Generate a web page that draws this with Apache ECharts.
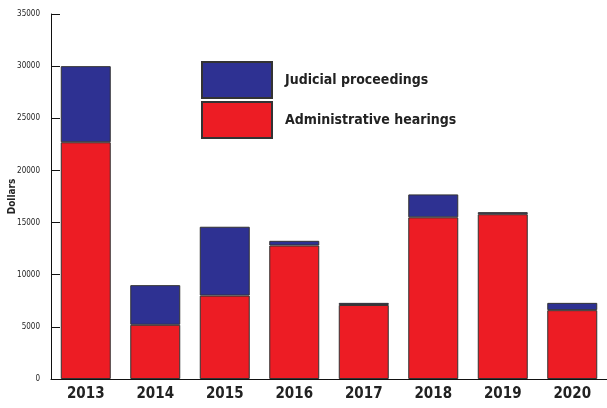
<!DOCTYPE html>
<html><head><meta charset="utf-8">
<script src="https://cdn.jsdelivr.net/npm/echarts@6/dist/echarts.min.js"></script>
<style>html,body{margin:0;padding:0;background:#fff}#c{width:607px;height:408px}</style>
</head><body><div id="c"></div>
<script>
var years = ['2013','2014','2015','2016','2017','2018','2019','2020'];
var administrative = [22700, 5200, 8000, 12800, 7100, 15500, 15800, 6600];
var judicial = [7300, 3800, 6600, 450, 200, 2200, 200, 700];
var yTicks = [0, 5000, 10000, 15000, 20000, 25000, 30000, 35000];

var chart = echarts.init(document.getElementById('c'));
var font = '"Liberation Sans Narrow", "DejaVu Sans Condensed", sans-serif';
chart.setOption({
  animation: false,
  backgroundColor: '#fff',
  grid: {left: 51, right: 0, top: 14, bottom: 29, containLabel: false, outerBoundsMode: 'none'},
  legend: {
    data: ['Judicial proceedings', 'Administrative hearings'],
    orient: 'vertical', left: 196, top: 56,
    itemWidth: 70, itemHeight: 36, itemGap: 2,
    icon: 'rect',
    textStyle: {fontFamily: font, fontWeight: 'bold', fontSize: 14, lineHeight: 16, color: '#222', padding: [0,0,0,8]}
  },
  xAxis: {
    type: 'category', data: years,
    axisLine: {lineStyle: {color: '#111', width: 1}},
    axisTick: {inside: true, length: 7, lineStyle: {color: '#111'}},
    axisLabel: {fontFamily: font, fontWeight: 'bold', fontSize: 15, color: '#222', margin: 8}
  },
  yAxis: {
    type: 'value', min: yTicks[0], max: yTicks[yTicks.length-1], interval: 5000,
    name: 'Dollars', nameLocation: 'middle', nameGap: 34, nameMoveOverlap: false,
    nameTextStyle: {fontFamily: font, fontWeight: 'bold', fontSize: 10, color: '#222'},
    axisLine: {show: true, lineStyle: {color: '#111', width: 1}},
    axisTick: {show: true, inside: true, length: 9, lineStyle: {color: '#111'}},
    splitLine: {show: false},
    axisLabel: {fontFamily: font, fontSize: 8, color: '#222', margin: 11, formatter: function (v) { return String(v); }}
  },
  series: [
    {name: 'Administrative hearings', type: 'bar', stack: 's', data: administrative, barWidth: 50,
     itemStyle: {color: '#ED1C24', borderColor: '#333', borderWidth: 1}},
    {name: 'Judicial proceedings', type: 'bar', stack: 's', data: judicial, barWidth: 50,
     itemStyle: {color: '#2E3192', borderColor: '#333', borderWidth: 1}}
  ]
});
</script></body></html>
